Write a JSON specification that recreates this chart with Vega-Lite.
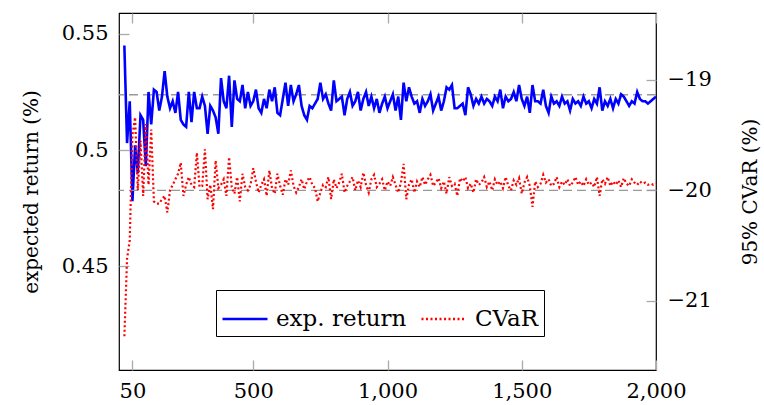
{
"$schema":"https://vega.github.io/schema/vega-lite/v6.json",
"width":537,"height":357,
"autosize":{"type":"none"},
"padding":{"left":119,"top":13,"right":108,"bottom":35},
"background":"white",
"config":{
 "view":{"stroke":"black","strokeWidth":1.2},
 "font":"DejaVu Serif",
 "axis":{"domain":false,"grid":false,"tickColor":"#aaaaaa","tickWidth":1.3,"tickSize":-10,"labelFont":"DejaVu Serif","labelFontSize":21,"labelColor":"black","titleFont":"DejaVu Serif","titleFontSize":20,"titleFontWeight":"normal","titleColor":"black","labelPadding":21,"labelFlush":false},
 "legend":{"labelFont":"DejaVu Serif"}
},
"data":{"values":[
{"n":20,"ret":0.545,"cvar":-21.32},{"n":30,"ret":0.503,"cvar":-20.62},{"n":40,"ret":0.521,"cvar":-20.45},{"n":50,"ret":0.478,"cvar":-19.5},{"n":60,"ret":0.502,"cvar":-19.34},{"n":70,"ret":0.49,"cvar":-20.0},{"n":80,"ret":0.515,"cvar":-19.55},{"n":90,"ret":0.513,"cvar":-20.05},{"n":100,"ret":0.493,"cvar":-19.4},
{"n":110,"ret":0.525,"cvar":-19.95},{"n":120,"ret":0.511,"cvar":-19.45},{"n":130,"ret":0.526,"cvar":-20.1},{"n":140,"ret":0.525,"cvar":-20.12},{"n":150,"ret":0.517,"cvar":-20.12},{"n":160,"ret":0.523,"cvar":-20.08},{"n":170,"ret":0.534,"cvar":-20.05},{"n":180,"ret":0.523,"cvar":-20.2},{"n":190,"ret":0.518,"cvar":-20.0},{"n":200,"ret":0.521,"cvar":-19.95},
{"n":210,"ret":0.516,"cvar":-19.9},{"n":220,"ret":0.525,"cvar":-19.85},{"n":230,"ret":0.513,"cvar":-19.75},{"n":240,"ret":0.511,"cvar":-20.05},{"n":250,"ret":0.51,"cvar":-19.95},{"n":260,"ret":0.525,"cvar":-19.88},{"n":270,"ret":0.512,"cvar":-19.95},{"n":280,"ret":0.525,"cvar":-19.97},{"n":290,"ret":0.518,"cvar":-19.66},{"n":300,"ret":0.518,"cvar":-19.97},
{"n":310,"ret":0.523,"cvar":-19.96},{"n":320,"ret":0.519,"cvar":-19.63},{"n":330,"ret":0.507,"cvar":-20.08},{"n":340,"ret":0.519,"cvar":-19.95},{"n":350,"ret":0.517,"cvar":-20.17},{"n":360,"ret":0.514,"cvar":-19.73},{"n":370,"ret":0.507,"cvar":-19.98},{"n":380,"ret":0.531,"cvar":-19.95},{"n":390,"ret":0.521,"cvar":-19.9},{"n":400,"ret":0.518,"cvar":-20.05},
{"n":410,"ret":0.532,"cvar":-19.7},{"n":420,"ret":0.51,"cvar":-19.97},{"n":430,"ret":0.53,"cvar":-20.03},{"n":440,"ret":0.522,"cvar":-19.88},{"n":450,"ret":0.521,"cvar":-20.1},{"n":460,"ret":0.528,"cvar":-19.85},{"n":470,"ret":0.518,"cvar":-19.97},{"n":480,"ret":0.525,"cvar":-20.0},{"n":490,"ret":0.519,"cvar":-19.95},{"n":500,"ret":0.521,"cvar":-19.8},
{"n":510,"ret":0.526,"cvar":-19.92},{"n":520,"ret":0.518,"cvar":-20.02},{"n":530,"ret":0.516,"cvar":-19.95},{"n":540,"ret":0.522,"cvar":-19.9},{"n":550,"ret":0.518,"cvar":-20.05},{"n":560,"ret":0.526,"cvar":-19.82},{"n":570,"ret":0.521,"cvar":-19.98},{"n":580,"ret":0.527,"cvar":-20.03},{"n":590,"ret":0.516,"cvar":-19.85},{"n":600,"ret":0.515,"cvar":-19.96},
{"n":610,"ret":0.522,"cvar":-20.04},{"n":620,"ret":0.529,"cvar":-19.9},{"n":630,"ret":0.519,"cvar":-19.95},{"n":640,"ret":0.528,"cvar":-19.82},{"n":650,"ret":0.521,"cvar":-19.96},{"n":660,"ret":0.524,"cvar":-20.02},{"n":670,"ret":0.528,"cvar":-19.97},{"n":680,"ret":0.519,"cvar":-19.9},{"n":690,"ret":0.515,"cvar":-19.99},{"n":700,"ret":0.513,"cvar":-19.92},
{"n":710,"ret":0.519,"cvar":-19.88},{"n":720,"ret":0.518,"cvar":-19.95},{"n":730,"ret":0.52,"cvar":-19.98},{"n":740,"ret":0.522,"cvar":-20.1},{"n":750,"ret":0.529,"cvar":-20.02},{"n":760,"ret":0.522,"cvar":-19.95},{"n":770,"ret":0.524,"cvar":-19.97},{"n":780,"ret":0.52,"cvar":-19.88},{"n":790,"ret":0.517,"cvar":-20.08},{"n":800,"ret":0.53,"cvar":-19.9},
{"n":810,"ret":0.521,"cvar":-19.98},{"n":820,"ret":0.522,"cvar":-19.93},{"n":830,"ret":0.523,"cvar":-19.85},{"n":840,"ret":0.515,"cvar":-20.02},{"n":850,"ret":0.522,"cvar":-19.96},{"n":860,"ret":0.525,"cvar":-19.92},{"n":870,"ret":0.519,"cvar":-19.88},{"n":880,"ret":0.521,"cvar":-20.0},{"n":890,"ret":0.525,"cvar":-19.91},{"n":900,"ret":0.517,"cvar":-19.97},
{"n":910,"ret":0.522,"cvar":-19.84},{"n":920,"ret":0.525,"cvar":-19.95},{"n":930,"ret":0.519,"cvar":-20.02},{"n":940,"ret":0.523,"cvar":-19.9},{"n":950,"ret":0.518,"cvar":-19.86},{"n":960,"ret":0.522,"cvar":-19.97},{"n":970,"ret":0.516,"cvar":-19.94},{"n":980,"ret":0.52,"cvar":-19.9},{"n":990,"ret":0.523,"cvar":-20.0},{"n":1000,"ret":0.518,"cvar":-19.92},
{"n":1010,"ret":0.521,"cvar":-19.96},{"n":1020,"ret":0.524,"cvar":-19.88},{"n":1030,"ret":0.517,"cvar":-19.95},{"n":1040,"ret":0.523,"cvar":-20.02},{"n":1050,"ret":0.513,"cvar":-19.93},{"n":1060,"ret":0.529,"cvar":-19.76},{"n":1070,"ret":0.521,"cvar":-20.08},{"n":1080,"ret":0.527,"cvar":-19.95},{"n":1090,"ret":0.523,"cvar":-19.9},{"n":1100,"ret":0.52,"cvar":-20.02},
{"n":1110,"ret":0.521,"cvar":-19.92},{"n":1120,"ret":0.516,"cvar":-19.97},{"n":1130,"ret":0.522,"cvar":-19.88},{"n":1140,"ret":0.519,"cvar":-19.95},{"n":1150,"ret":0.521,"cvar":-19.9},{"n":1160,"ret":0.524,"cvar":-19.86},{"n":1170,"ret":0.517,"cvar":-19.96},{"n":1180,"ret":0.52,"cvar":-19.93},{"n":1190,"ret":0.523,"cvar":-19.89},{"n":1200,"ret":0.517,"cvar":-19.98},
{"n":1210,"ret":0.521,"cvar":-19.92},{"n":1220,"ret":0.527,"cvar":-20.03},{"n":1230,"ret":0.526,"cvar":-19.88},{"n":1240,"ret":0.528,"cvar":-19.96},{"n":1250,"ret":0.518,"cvar":-19.94},{"n":1260,"ret":0.518,"cvar":-20.05},{"n":1270,"ret":0.519,"cvar":-19.89},{"n":1280,"ret":0.52,"cvar":-19.92},{"n":1290,"ret":0.515,"cvar":-19.88},{"n":1300,"ret":0.527,"cvar":-19.98},
{"n":1310,"ret":0.524,"cvar":-19.94},{"n":1320,"ret":0.519,"cvar":-20.02},{"n":1330,"ret":0.522,"cvar":-19.9},{"n":1340,"ret":0.52,"cvar":-19.95},{"n":1350,"ret":0.523,"cvar":-19.93},{"n":1360,"ret":0.52,"cvar":-19.88},{"n":1370,"ret":0.522,"cvar":-19.97},{"n":1380,"ret":0.521,"cvar":-19.92},{"n":1390,"ret":0.519,"cvar":-20.0},{"n":1400,"ret":0.523,"cvar":-19.9},
{"n":1410,"ret":0.521,"cvar":-19.95},{"n":1420,"ret":0.526,"cvar":-19.92},{"n":1430,"ret":0.518,"cvar":-19.98},{"n":1440,"ret":0.523,"cvar":-19.88},{"n":1450,"ret":0.521,"cvar":-19.96},{"n":1460,"ret":0.522,"cvar":-20.0},{"n":1470,"ret":0.525,"cvar":-19.91},{"n":1480,"ret":0.521,"cvar":-19.95},{"n":1490,"ret":0.528,"cvar":-19.89},{"n":1500,"ret":0.522,"cvar":-20.03},
{"n":1510,"ret":0.519,"cvar":-19.93},{"n":1520,"ret":0.523,"cvar":-19.88},{"n":1530,"ret":0.516,"cvar":-19.96},{"n":1540,"ret":0.528,"cvar":-20.15},{"n":1550,"ret":0.521,"cvar":-19.92},{"n":1560,"ret":0.521,"cvar":-19.97},{"n":1570,"ret":0.52,"cvar":-19.94},{"n":1580,"ret":0.526,"cvar":-19.86},{"n":1590,"ret":0.519,"cvar":-19.93},{"n":1600,"ret":0.516,"cvar":-19.9},
{"n":1610,"ret":0.523,"cvar":-19.96},{"n":1620,"ret":0.52,"cvar":-19.94},{"n":1630,"ret":0.521,"cvar":-19.88},{"n":1640,"ret":0.519,"cvar":-19.97},{"n":1650,"ret":0.523,"cvar":-19.92},{"n":1660,"ret":0.52,"cvar":-19.95},{"n":1670,"ret":0.521,"cvar":-19.9},{"n":1680,"ret":0.517,"cvar":-19.96},{"n":1690,"ret":0.522,"cvar":-19.93},{"n":1700,"ret":0.52,"cvar":-19.88},
{"n":1710,"ret":0.521,"cvar":-19.95},{"n":1720,"ret":0.519,"cvar":-19.92},{"n":1730,"ret":0.523,"cvar":-19.96},{"n":1740,"ret":0.52,"cvar":-19.9},{"n":1750,"ret":0.521,"cvar":-19.95},{"n":1760,"ret":0.518,"cvar":-19.93},{"n":1770,"ret":0.522,"cvar":-19.97},{"n":1780,"ret":0.52,"cvar":-19.88},{"n":1790,"ret":0.527,"cvar":-20.05},{"n":1800,"ret":0.517,"cvar":-19.9},
{"n":1810,"ret":0.521,"cvar":-19.94},{"n":1820,"ret":0.519,"cvar":-19.88},{"n":1830,"ret":0.522,"cvar":-19.96},{"n":1840,"ret":0.518,"cvar":-19.92},{"n":1850,"ret":0.522,"cvar":-19.95},{"n":1860,"ret":0.52,"cvar":-19.91},{"n":1870,"ret":0.524,"cvar":-19.97},{"n":1880,"ret":0.523,"cvar":-19.89},{"n":1890,"ret":0.521,"cvar":-19.94},{"n":1900,"ret":0.519,"cvar":-19.96},
{"n":1910,"ret":0.521,"cvar":-19.9},{"n":1920,"ret":0.52,"cvar":-19.93},{"n":1930,"ret":0.525,"cvar":-19.95},{"n":1940,"ret":0.522,"cvar":-19.92},{"n":1950,"ret":0.521,"cvar":-19.94},{"n":1960,"ret":0.521,"cvar":-19.93},{"n":1970,"ret":0.52,"cvar":-19.95},{"n":1980,"ret":0.521,"cvar":-19.94},{"n":1990,"ret":0.522,"cvar":-19.95},{"n":2000,"ret":0.523,"cvar":-19.94}
]},
"transform":[{"fold":["ret","cvar"],"as":["key","val"]}],
"layer":[
 {"layer":[
  {"data":{"values":[{}]},"mark":{"type":"rule","color":"#999999","strokeDash":[9,5],"strokeWidth":1.3},
   "encoding":{"y":{"datum":0.5238,"type":"quantitative","scale":{"domain":[0.4053,0.559],"nice":false,"zero":false},"title":"expected return (%)"}}},
  {"transform":[{"filter":"datum.key=='ret'"}],
   "mark":{"type":"line","strokeWidth":2.6,"strokeJoin":"miter"},
   "encoding":{
    "x":{"field":"n","type":"quantitative","scale":{"domain":[0,2000],"nice":false,"zero":false},"axis":{"orient":"bottom","values":[50,500,1000,1500,2000],"format":",d","title":null,"labelPadding":20,"labelFont":"DejaVu Serif"}},
    "y":{"field":"val","type":"quantitative","scale":{"domain":[0.4053,0.559],"nice":false,"zero":false},"axis":{"orient":"left","values":[0.45,0.5,0.55],"format":"~g","labelFont":"DejaVu Serif","title":"expected return (%)","titleX":-88,"titleY":178.5,"titleAngle":270,"titleBaseline":"middle","titleAlign":"center"}},
    "color":{"field":"key","type":"nominal","scale":{"domain":["ret","cvar"],"range":["#0000ff","#ff0000"]},"legend":{"title":null,"orient":"none","legendX":97,"legendY":277,"direction":"horizontal","strokeColor":"black","fillColor":"white","padding":5,"symbolType":"stroke","symbolSize":2025,"symbolStrokeWidth":2.4,"labelFont":"DejaVu Serif","labelFontSize":23,"labelColor":"black","columnPadding":9,"labelOffset":7,"labelExpr":"datum.value=='ret' ? 'exp. return' : 'CVaR'"}},
    "strokeDash":{"field":"key","type":"nominal","scale":{"domain":["ret","cvar"],"range":[[1,0],[2,2.5]]},"legend":{"title":null,"orient":"none","legendX":97,"legendY":277,"direction":"horizontal","strokeColor":"black","fillColor":"white","padding":5,"symbolType":"stroke","symbolSize":2025,"symbolStrokeWidth":2.4,"labelFont":"DejaVu Serif","labelFontSize":23,"labelColor":"black","columnPadding":9,"labelOffset":7,"labelExpr":"datum.value=='ret' ? 'exp. return' : 'CVaR'"}}
   }}
 ]},
 {"layer":[
  {"data":{"values":[{}]},"mark":{"type":"rule","color":"#999999","strokeDash":[9,5],"strokeWidth":1.3},
   "encoding":{"y":{"datum":-20,"type":"quantitative","scale":{"domain":[-21.625,-18.396],"nice":false,"zero":false},"title":"95% CVaR (%)"}}},
  {"transform":[{"filter":"datum.key=='cvar'"}],
   "mark":{"type":"line","strokeWidth":2.2,"strokeCap":"butt"},
   "encoding":{
    "x":{"field":"n","type":"quantitative","scale":{"domain":[0,2000],"nice":false,"zero":false},"axis":{"orient":"top","values":[50,500,1000,1500,2000],"labels":false,"title":null}},
    "y":{"field":"val","type":"quantitative","scale":{"domain":[-21.625,-18.396],"nice":false,"zero":false},"axis":{"orient":"right","values":[-21,-20,-19],"format":"d","labelFont":"DejaVu Serif","title":"95% CVaR (%)","titleX":94,"titleY":178.5,"titleAngle":270,"titleBaseline":"middle","titleAlign":"center"}},
    "color":{"field":"key","type":"nominal"},
    "strokeDash":{"field":"key","type":"nominal"}
   }}
 ]}
],
"resolve":{"scale":{"y":"independent"},"axis":{"x":"independent"}}
}
